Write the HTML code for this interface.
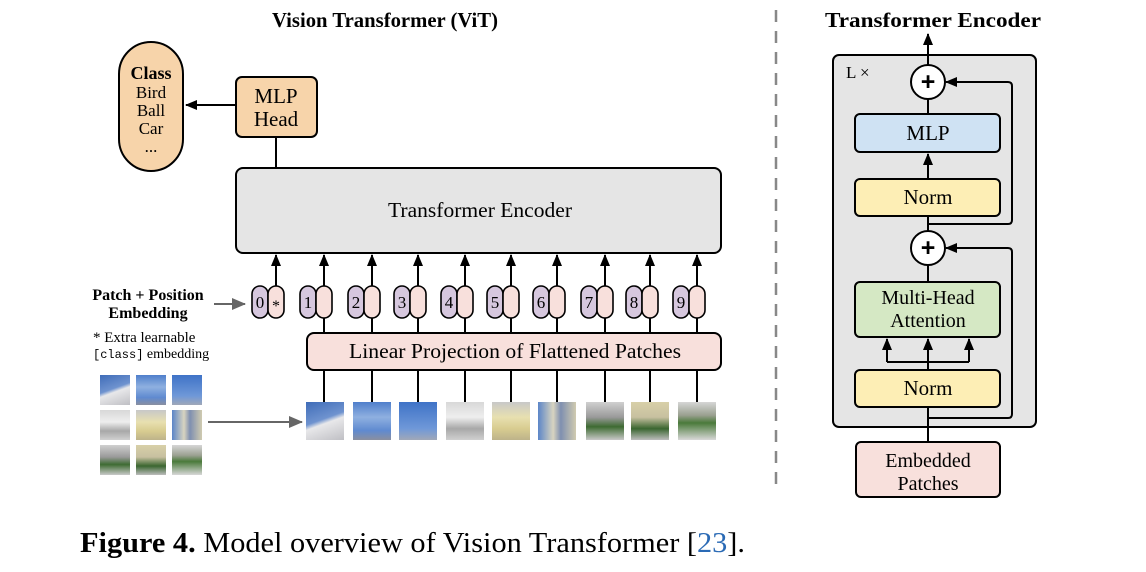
<!DOCTYPE html>
<html><head><meta charset="utf-8"><style>
body{margin:0;background:#fff;width:1146px;height:572px;overflow:hidden;position:relative;font-family:"Liberation Serif",serif}
.p{position:absolute}
.sky1{background:linear-gradient(160deg,#3f6cb8 0%,#6f93cf 45%,#e8e8ea 55%,#bfbfc4 100%)}
.sky2{background:linear-gradient(180deg,#4f7fcb 0%,#8fb0e0 40%,#5f8ad0 75%,#8a8fa0 100%)}
.sky3{background:linear-gradient(180deg,#3f73c7 0%,#6f98d8 70%,#a0a8b8 100%)}
.bld{background:linear-gradient(180deg,#d8d8d8 0%,#eeeeee 40%,#a8a8a8 70%,#d0d0d0 100%)}
.yel{background:linear-gradient(180deg,#c8c8c8 0%,#e8e0b0 40%,#d8cc90 70%,#bdb38a 100%)}
.mix{background:linear-gradient(90deg,#5b85c8 0%,#d8d4c0 40%,#7f8fb0 60%,#d0cbb0 100%)}
.grn{background:linear-gradient(180deg,#d0d0d0 0%,#9a9a9a 40%,#3e6b32 65%,#c9c9c9 100%)}
.grn2{background:linear-gradient(180deg,#d8d0a8 0%,#c7c0a0 40%,#3a6630 70%,#bdbdbd 100%)}
.grn3{background:linear-gradient(180deg,#d6d6d6 0%,#9aa090 35%,#4a7a3a 55%,#d8d8d8 100%)}
</style></head><body>
<svg width="1146" height="572" style="position:absolute;left:0;top:0" font-family="Liberation Serif, serif">
<defs>
<marker id="a" markerWidth="12" markerHeight="12" refX="11" refY="6" orient="auto" markerUnits="userSpaceOnUse"><path d="M0,1 L12,6 L0,11 z" fill="#000"/></marker>
<marker id="g" markerWidth="14" markerHeight="12" refX="13" refY="6" orient="auto" markerUnits="userSpaceOnUse"><path d="M0,0 L14,6 L0,12 z" fill="#666"/></marker>
</defs>
<text x="272" y="27" textLength="226" lengthAdjust="spacingAndGlyphs" font-weight="bold" font-size="21">Vision Transformer (ViT)</text>
<rect x="119" y="42" width="64" height="129" rx="32" fill="#f7d4aa" stroke="#000" stroke-width="2"/>
<text x="151" y="79" text-anchor="middle" font-weight="bold" font-size="18">Class</text>
<text x="151" y="98" text-anchor="middle" font-size="17">Bird</text>
<text x="151" y="116" text-anchor="middle" font-size="17">Ball</text>
<text x="151" y="134" text-anchor="middle" font-size="17">Car</text>
<text x="151" y="152" text-anchor="middle" font-size="17">...</text>
<rect x="236" y="77" width="81" height="60" rx="6" fill="#f7d4aa" stroke="#000" stroke-width="2"/>
<text x="276" y="103" text-anchor="middle" font-size="21">MLP</text>
<text x="276" y="126" text-anchor="middle" font-size="21">Head</text>
<line x1="236" y1="105" x2="186" y2="105" stroke="#000" stroke-width="2" marker-end="url(#a)"/>
<line x1="276" y1="137" x2="276" y2="168" stroke="#000" stroke-width="2"/>
<rect x="236" y="168" width="485" height="85" rx="7" fill="#e5e5e5" stroke="#000" stroke-width="2"/>
<text x="388" y="217" textLength="184" lengthAdjust="spacingAndGlyphs" font-size="21">Transformer Encoder</text>
<g stroke="#000" stroke-width="2">
<line x1="276" y1="286" x2="276" y2="255" marker-end="url(#a)"/>
<line x1="324" y1="286" x2="324" y2="255" marker-end="url(#a)"/>
<line x1="372" y1="286" x2="372" y2="255" marker-end="url(#a)"/>
<line x1="418" y1="286" x2="418" y2="255" marker-end="url(#a)"/>
<line x1="465" y1="286" x2="465" y2="255" marker-end="url(#a)"/>
<line x1="511" y1="286" x2="511" y2="255" marker-end="url(#a)"/>
<line x1="557" y1="286" x2="557" y2="255" marker-end="url(#a)"/>
<line x1="605" y1="286" x2="605" y2="255" marker-end="url(#a)"/>
<line x1="650" y1="286" x2="650" y2="255" marker-end="url(#a)"/>
<line x1="697" y1="286" x2="697" y2="255" marker-end="url(#a)"/>
<line x1="324" y1="318" x2="324" y2="333"/><line x1="372" y1="318" x2="372" y2="333"/><line x1="418" y1="318" x2="418" y2="333"/><line x1="465" y1="318" x2="465" y2="333"/><line x1="511" y1="318" x2="511" y2="333"/><line x1="557" y1="318" x2="557" y2="333"/><line x1="605" y1="318" x2="605" y2="333"/><line x1="650" y1="318" x2="650" y2="333"/><line x1="697" y1="318" x2="697" y2="333"/>
<line x1="324" y1="370" x2="324" y2="402"/><line x1="372" y1="370" x2="372" y2="402"/><line x1="418" y1="370" x2="418" y2="402"/><line x1="465" y1="370" x2="465" y2="402"/><line x1="511" y1="370" x2="511" y2="402"/><line x1="557" y1="370" x2="557" y2="402"/><line x1="605" y1="370" x2="605" y2="402"/><line x1="650" y1="370" x2="650" y2="402"/><line x1="697" y1="370" x2="697" y2="402"/>
</g>
<g stroke="#000" stroke-width="1.6">
<rect x="252" y="286" width="16" height="32" rx="8" fill="#d6c7de"/><rect x="268" y="286" width="16" height="32" rx="8" fill="#f8e0dc"/>
<rect x="300" y="286" width="16" height="32" rx="8" fill="#d6c7de"/><rect x="316" y="286" width="16" height="32" rx="8" fill="#f8e0dc"/>
<rect x="348" y="286" width="16" height="32" rx="8" fill="#d6c7de"/><rect x="364" y="286" width="16" height="32" rx="8" fill="#f8e0dc"/>
<rect x="394" y="286" width="16" height="32" rx="8" fill="#d6c7de"/><rect x="410" y="286" width="16" height="32" rx="8" fill="#f8e0dc"/>
<rect x="441" y="286" width="16" height="32" rx="8" fill="#d6c7de"/><rect x="457" y="286" width="16" height="32" rx="8" fill="#f8e0dc"/>
<rect x="487" y="286" width="16" height="32" rx="8" fill="#d6c7de"/><rect x="503" y="286" width="16" height="32" rx="8" fill="#f8e0dc"/>
<rect x="533" y="286" width="16" height="32" rx="8" fill="#d6c7de"/><rect x="549" y="286" width="16" height="32" rx="8" fill="#f8e0dc"/>
<rect x="581" y="286" width="16" height="32" rx="8" fill="#d6c7de"/><rect x="597" y="286" width="16" height="32" rx="8" fill="#f8e0dc"/>
<rect x="626" y="286" width="16" height="32" rx="8" fill="#d6c7de"/><rect x="642" y="286" width="16" height="32" rx="8" fill="#f8e0dc"/>
<rect x="673" y="286" width="16" height="32" rx="8" fill="#d6c7de"/><rect x="689" y="286" width="16" height="32" rx="8" fill="#f8e0dc"/>
</g>
<g font-size="17" text-anchor="middle" fill="#000">
<text x="260" y="308">0</text><text x="276" y="311" font-size="16">*</text>
<text x="308" y="308">1</text><text x="356" y="308">2</text><text x="402" y="308">3</text><text x="449" y="308">4</text><text x="495" y="308">5</text><text x="541" y="308">6</text><text x="589" y="308">7</text><text x="634" y="308">8</text><text x="681" y="308">9</text>
</g>
<text x="148" y="300" text-anchor="middle" font-weight="bold" font-size="16">Patch + Position</text>
<text x="148" y="318" text-anchor="middle" font-weight="bold" font-size="16">Embedding</text>
<line x1="214" y1="304" x2="245" y2="304" stroke="#666" stroke-width="2" marker-end="url(#g)"/>
<text x="93" y="342" font-size="15">* Extra learnable</text>
<text x="93" y="358" font-size="14"><tspan font-family="Liberation Mono, monospace" font-size="12">[class]</tspan> embedding</text>
<rect x="307" y="333" width="414" height="37" rx="7" fill="#f8e0dc" stroke="#000" stroke-width="2"/>
<text x="349" y="358" textLength="332" lengthAdjust="spacingAndGlyphs" font-size="21">Linear Projection of Flattened Patches</text>
<line x1="208" y1="422" x2="302" y2="422" stroke="#666" stroke-width="2" marker-end="url(#g)"/>
<line x1="776" y1="10" x2="776" y2="492" stroke="#888" stroke-width="2.5" stroke-dasharray="12,9"/>
<text x="825" y="27" textLength="216" lengthAdjust="spacingAndGlyphs" font-weight="bold" font-size="21">Transformer Encoder</text>
<rect x="833" y="55" width="203" height="372" rx="6" fill="#e5e5e5" stroke="#000" stroke-width="2"/>
<text x="846" y="78" font-size="17">L ×</text>
<g stroke="#000" stroke-width="2" fill="none">
<line x1="928" y1="65" x2="928" y2="34" marker-end="url(#a)"/>
<line x1="928" y1="114" x2="928" y2="99"/>
<line x1="928" y1="179" x2="928" y2="154" marker-end="url(#a)"/>
<line x1="928" y1="216" x2="928" y2="231"/>
<path d="M928,224 H1008 q4,0 4,-4 V86 q0,-4 -4,-4 H946" marker-end="url(#a)"/>
<line x1="928" y1="265" x2="928" y2="282"/>
<path d="M928,418 H1008 q4,0 4,-4 V252 q0,-4 -4,-4 H946" marker-end="url(#a)"/>
<line x1="928" y1="442" x2="928" y2="407"/>
<line x1="928" y1="370" x2="928" y2="339" marker-end="url(#a)"/>
<path d="M887,362 H969"/>
<line x1="887" y1="362" x2="887" y2="339" marker-end="url(#a)"/>
<line x1="969" y1="362" x2="969" y2="339" marker-end="url(#a)"/>
</g>
<circle cx="928" cy="82" r="17" fill="#fff" stroke="#000" stroke-width="2"/>
<text x="928" y="90" text-anchor="middle" font-size="25" font-weight="bold" font-family="Liberation Sans, sans-serif">+</text>
<circle cx="928" cy="248" r="17" fill="#fff" stroke="#000" stroke-width="2"/>
<text x="928" y="256" text-anchor="middle" font-size="25" font-weight="bold" font-family="Liberation Sans, sans-serif">+</text>
<rect x="855" y="114" width="145" height="38" rx="5" fill="#cfe2f3" stroke="#000" stroke-width="2"/>
<text x="928" y="140" text-anchor="middle" font-size="21">MLP</text>
<rect x="855" y="179" width="145" height="37" rx="5" fill="#fdeeb5" stroke="#000" stroke-width="2"/>
<text x="928" y="204" text-anchor="middle" font-size="21">Norm</text>
<rect x="855" y="282" width="145" height="55" rx="5" fill="#d5e8c4" stroke="#000" stroke-width="2"/>
<text x="928" y="304" text-anchor="middle" font-size="20">Multi-Head</text>
<text x="928" y="327" text-anchor="middle" font-size="20">Attention</text>
<rect x="855" y="370" width="145" height="37" rx="5" fill="#fdeeb5" stroke="#000" stroke-width="2"/>
<text x="928" y="395" text-anchor="middle" font-size="21">Norm</text>
<rect x="856" y="442" width="144" height="55" rx="5" fill="#f8e0dc" stroke="#000" stroke-width="2"/>
<text x="928" y="467" text-anchor="middle" font-size="20">Embedded</text>
<text x="928" y="490" text-anchor="middle" font-size="20">Patches</text>
<text x="80" y="552" font-size="28" textLength="665" lengthAdjust="spacingAndGlyphs"><tspan font-weight="bold">Figure 4.</tspan> Model overview of Vision Transformer [<tspan fill="#2a6ab5">23</tspan>].</text>
</svg>
<div class="p sky1" style="left:100px;top:375px;width:30px;height:30px"></div>
<div class="p sky2" style="left:136px;top:375px;width:30px;height:30px"></div>
<div class="p sky3" style="left:172px;top:375px;width:30px;height:30px"></div>
<div class="p bld" style="left:100px;top:410px;width:30px;height:30px"></div>
<div class="p yel" style="left:136px;top:410px;width:30px;height:30px"></div>
<div class="p mix" style="left:172px;top:410px;width:30px;height:30px"></div>
<div class="p grn" style="left:100px;top:445px;width:30px;height:30px"></div>
<div class="p grn2" style="left:136px;top:445px;width:30px;height:30px"></div>
<div class="p grn3" style="left:172px;top:445px;width:30px;height:30px"></div>
<div class="p sky1" style="left:306px;top:402px;width:38px;height:38px"></div>
<div class="p sky2" style="left:353px;top:402px;width:38px;height:38px"></div>
<div class="p sky3" style="left:399px;top:402px;width:38px;height:38px"></div>
<div class="p bld" style="left:446px;top:402px;width:38px;height:38px"></div>
<div class="p yel" style="left:492px;top:402px;width:38px;height:38px"></div>
<div class="p mix" style="left:538px;top:402px;width:38px;height:38px"></div>
<div class="p grn" style="left:586px;top:402px;width:38px;height:38px"></div>
<div class="p grn2" style="left:631px;top:402px;width:38px;height:38px"></div>
<div class="p grn3" style="left:678px;top:402px;width:38px;height:38px"></div>
</body></html>
